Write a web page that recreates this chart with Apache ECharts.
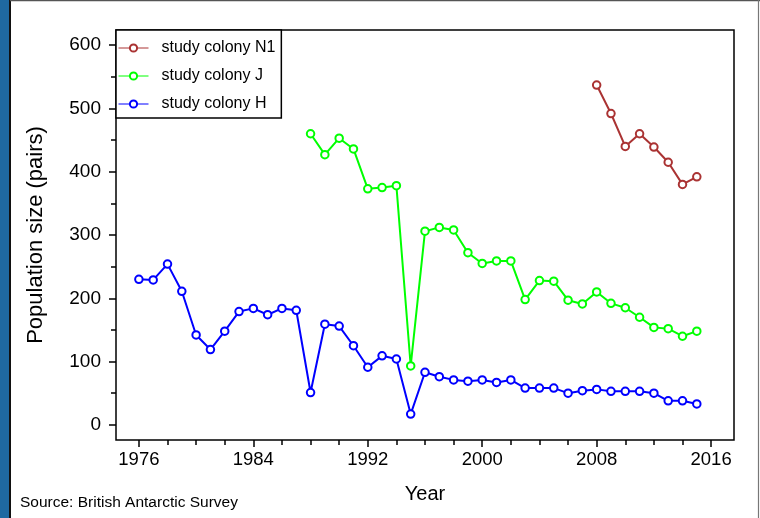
<!DOCTYPE html>
<html>
<head>
<meta charset="utf-8">
<script src="https://cdn.jsdelivr.net/npm/echarts@6/dist/echarts.min.js"></script>
<style>
html,body{margin:0;padding:0;background:#fff;}
#chart{width:760px;height:518px;}
</style>
</head>
<body>
<div id="chart"></div>
<script>
// ---- data ----
const yearsH = [1976,1977,1978,1979,1980,1981,1982,1983,1984,1985,1986,1987,1988,1989,1990,1991,1992,1993,1994,1995,1996,1997,1998,1999,2000,2001,2002,2003,2004,2005,2006,2007,2008,2009,2010,2011,2012,2013,2014,2015];
const valuesH = [230,229,254,211,142,119,148,179,184,174,184,181,51,159,156,125,91,109,104,17,83,76,71,69,71,67,71,58,58,58,50,54,56,53,53,53,50,38,38,33];
const yearsJ = [1988,1989,1990,1991,1992,1993,1994,1995,1996,1997,1998,1999,2000,2001,2002,2003,2004,2005,2006,2007,2008,2009,2010,2011,2012,2013,2014,2015];
const valuesJ = [460,427,453,436,373,375,378,93,306,312,308,272,255,259,259,198,228,227,197,191,210,192,185,170,154,152,140,148];
const yearsN1 = [2008,2009,2010,2011,2012,2013,2014,2015];
const valuesN1 = [537,492,440,460,439,415,380,392];
const seriesNames = ['study colony N1','study colony J','study colony H'];
const xTickLabels = [1976,1984,1992,2000,2008,2016];
const xMinorTicks = [1976,1978,1980,1982,1984,1986,1988,1990,1992,1994,1996,1998,2000,2002,2004,2006,2008,2010,2012,2014,2016];
const yTickLabels = [0,100,200,300,400,500,600];
const yMinorTicks = [50,150,250,350,450,550];

const pairs = (xs, ys) => xs.map((x, i) => [x, ys[i]]);
const FONT = '"Liberation Sans", Arial, Helvetica, sans-serif';
const xMin = 1974.4, xMax = 2017.6, yMin = -24, yMax = 624;

const chart = echarts.init(document.getElementById('chart'), null, {renderer: 'canvas'});

function lineSeries(name, data, color) {
  return {
    name: name, type: 'line', data: data,
    xAxisIndex: 0, yAxisIndex: 0,
    symbol: 'emptyCircle', symbolSize: 7.5,
    lineStyle: {color: color, width: 2},
    itemStyle: {color: color, borderColor: color, borderWidth: 1.8},
    emphasis: {disabled: true},
    animation: false, z: 3
  };
}

const option = {
  animation: false,
  backgroundColor: '#fff',
  grid: {left: 116, right: 26, top: 30, bottom: 78, show: true, borderColor: '#000', borderWidth: 1.5, backgroundColor: 'transparent'},
  legend: {
    data: seriesNames, orient: 'vertical', left: 116, top: 30,
    borderColor: '#000', borderWidth: 1.5, backgroundColor: '#fff',
    padding: [10, 6, 6, 2], itemWidth: 30, itemHeight: 9, itemGap: 12,
    lineStyle: {width: 1},
    textStyle: {fontFamily: FONT, fontSize: 16, color: '#000', padding: [0, 0, 0, 8]},
    selectedMode: false, z: 10
  },
  xAxis: [
    {type: 'value', min: xMin, max: xMax, position: 'bottom',
     name: 'Year', nameLocation: 'middle', nameGap: 44,
     nameTextStyle: {fontFamily: FONT, fontSize: 20, color: '#000'},
     axisLine: {show: false, onZero: false},
     axisTick: {show: true, length: 7, customValues: xTickLabels, lineStyle: {color: '#000', width: 1.5}},
     axisLabel: {show: true, customValues: xTickLabels, margin: 10, fontFamily: FONT, fontSize: 18.5, color: '#000',
                 formatter: v => String(Math.round(v))},
     splitLine: {show: false}},
    {type: 'value', min: xMin, max: xMax, position: 'bottom', gridIndex: 0,
     axisLine: {show: false, onZero: false},
     axisTick: {show: true, length: 5, customValues: xMinorTicks, lineStyle: {color: '#000', width: 1.5}},
     axisLabel: {show: false}, splitLine: {show: false}}
  ],
  yAxis: [
    {type: 'value', min: yMin, max: yMax, position: 'left',
     name: 'Population size (pairs)', nameLocation: 'middle', nameGap: 69, nameRotate: 90,
     nameTextStyle: {fontFamily: FONT, fontSize: 22, color: '#000'},
     axisLine: {show: false, onZero: false},
     axisTick: {show: true, length: 7, customValues: yTickLabels, lineStyle: {color: '#000', width: 1.5}},
     axisLabel: {show: true, customValues: yTickLabels, margin: 15, fontFamily: FONT, fontSize: 19, color: '#000',
                 formatter: v => String(Math.round(v))},
     splitLine: {show: false}},
    {type: 'value', min: yMin, max: yMax, position: 'left', gridIndex: 0,
     axisLine: {show: false, onZero: false},
     axisTick: {show: true, length: 5, customValues: yMinorTicks, lineStyle: {color: '#000', width: 1.5}},
     axisLabel: {show: false}, splitLine: {show: false}}
  ],
  series: [
    lineSeries(seriesNames[0], pairs(yearsN1, valuesN1), '#AA3333'),
    lineSeries(seriesNames[1], pairs(yearsJ, valuesJ), '#00FF00'),
    lineSeries(seriesNames[2], pairs(yearsH, valuesH), '#0000FF')
  ],
  graphic: [
    {type: 'rect', left: 0, top: 0, shape: {width: 9, height: 518}, style: {fill: '#1f69a1'}, z: 100},
    {type: 'line', shape: {x1: 10, y1: 0, x2: 10, y2: 518}, style: {stroke: '#111', lineWidth: 2}, z: 100},
    {type: 'line', shape: {x1: 10, y1: 0.5, x2: 760, y2: 0.5}, style: {stroke: '#555', lineWidth: 1.5}, z: 100},
    {type: 'line', shape: {x1: 758.5, y1: 0, x2: 758.5, y2: 518}, style: {stroke: '#777', lineWidth: 1.2}, z: 100},
    {type: 'text', left: 20, top: 495, style: {text: 'Source: British Antarctic Survey', font: '15.5px ' + FONT, fill: '#000'}, z: 100}
  ]
};
chart.setOption(option);
</script>
</body>
</html>
